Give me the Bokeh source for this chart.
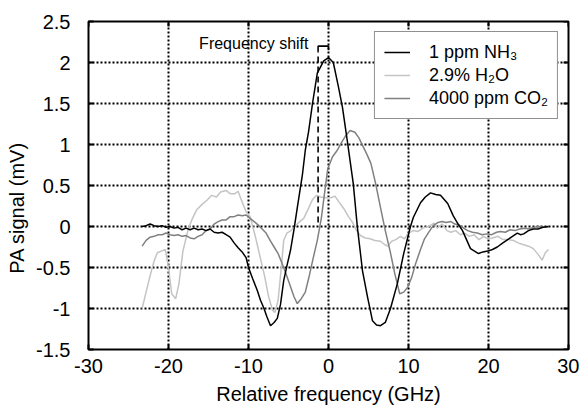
from bokeh.plotting import figure
from bokeh.models import Legend, LegendItem, FixedTicker
from bokeh.core.properties import value
from bokeh.embed import file_html
from bokeh.resources import INLINE

# ---------------- data ----------------
nh3_x = [-23.3, -22.8, -22.3, -21.8, -21.3, -20.8, -20.3, -19.8, -19.3, -18.8,
         -18.3, -17.8, -17.3, -16.8, -16.3, -15.8, -15.3, -14.8, -14.3, -13.8,
         -13.3, -12.8, -12.3, -11.8, -11.3, -10.8, -10.3, -10.0, -9.5, -8.9,
         -8.5, -8.1, -7.7, -7.25, -6.8, -6.4, -6.0, -5.6, -5.2, -4.75,
         -4.3, -3.9, -3.25, -2.9, -2.5, -2.0, -1.4, -0.6, 0.0, 0.6,
         1.25, 1.75, 2.4, 3.1, 3.6, 4.25, 4.9, 5.5, 6.0, 6.5,
         7.1, 7.75, 8.6, 9.4, 10.25, 10.6, 11.5, 12.1, 12.75, 13.4,
         14.0, 14.9, 15.6, 16.2, 16.75, 17.75, 18.75, 19.3, 19.9, 20.5,
         21.1, 21.8, 22.4, 23.0, 23.6, 24.0, 24.4, 25.0, 25.6, 26.2,
         26.8, 27.5]
nh3_y = [0.00, 0.01, 0.03, 0.01, 0.00, 0.01, -0.01, 0.00, -0.02, -0.01,
         -0.04, -0.02, -0.04, -0.02, -0.04, -0.03, -0.05, -0.03, -0.07, -0.08,
         -0.07, -0.10, -0.13, -0.20, -0.26, -0.31, -0.38, -0.50, -0.63, -0.78,
         -0.90, -0.99, -1.10, -1.21, -1.17, -1.12, -0.95, -0.66, -0.48, -0.29,
         -0.03, 0.23, 0.64, 0.93, 1.15, 1.50, 1.87, 2.02, 2.06, 2.00,
         1.70, 1.45, 1.01, 0.52, 0.00, -0.54, -0.87, -1.15, -1.20, -1.21,
         -1.17, -1.00, -0.70, -0.33, 0.00, 0.11, 0.29, 0.36, 0.41, 0.39,
         0.38, 0.28, 0.13, 0.03, -0.05, -0.27, -0.33, -0.31, -0.30, -0.28,
         -0.25, -0.20, -0.16, -0.12, -0.08, -0.10, -0.09, -0.05, -0.03, -0.03,
         -0.01, 0.00]

h2o_x = [-23.3, -22.8, -22.3, -21.8, -21.4, -20.9, -20.4, -20.0, -19.6, -19.1,
         -18.7, -18.2, -17.5, -17.0, -16.5, -15.8, -15.2, -14.6, -14.0, -13.5,
         -12.8, -12.3, -11.7, -11.3, -10.8, -10.3, -9.8, -9.2, -8.6, -8.0,
         -7.5, -7.0, -6.7, -6.3, -5.9, -5.6, -5.2, -4.7, -4.2, -3.6,
         -3.1, -2.6, -2.0, -1.5, -1.0, -0.3, 0.3, 0.8, 1.3, 1.9,
         2.5, 3.0, 3.5, 4.0, 4.6, 5.2, 5.8, 6.5, 7.0, 7.4,
         7.9, 8.4, 9.0, 9.5, 10.0, 10.6, 11.2, 11.8, 12.5, 13.2,
         13.6, 14.2, 14.8, 15.3, 15.9, 16.5, 17.0, 17.6, 18.2, 18.8,
         19.4, 19.9, 20.5, 21.2, 21.8, 22.5, 23.1, 23.7, 24.3, 25.0,
         25.6, 26.2, 26.7, 27.1, 27.5]
h2o_y = [-1.00, -0.80, -0.60, -0.42, -0.32, -0.30, -0.28, -0.50, -0.82, -0.88,
         -0.70, -0.30, -0.02, 0.10, 0.20, 0.27, 0.32, 0.38, 0.36, 0.42,
         0.44, 0.40, 0.40, 0.43, 0.30, 0.18, 0.12, -0.10, -0.35, -0.60,
         -0.85, -1.02, -1.05, -0.90, -0.50, -0.17, -0.08, -0.05, 0.00, 0.06,
         0.10, 0.20, 0.33, 0.38, 0.36, 0.35, 0.35, 0.37, 0.30, 0.22,
         0.12, 0.05, -0.05, -0.11, -0.14, -0.15, -0.17, -0.18, -0.22, -0.24,
         -0.18, -0.16, -0.12, -0.15, -0.08, -0.05, -0.06, -0.02, 0.00, 0.04,
         -0.02, 0.03, -0.05, -0.07, -0.05, -0.10, -0.08, -0.12, -0.10, -0.16,
         -0.12, -0.15, -0.14, -0.12, -0.16, -0.16, -0.17, -0.20, -0.22, -0.24,
         -0.27, -0.34, -0.41, -0.32, -0.28]

co2_x = [-23.3, -22.8, -22.3, -21.8, -21.3, -20.8, -20.3, -19.8, -19.3, -18.8,
         -18.3, -17.8, -17.3, -16.8, -16.3, -15.8, -15.3, -14.8, -14.3, -13.8,
         -13.3, -12.8, -12.3, -11.8, -11.3, -10.8, -10.3, -9.8, -9.3, -8.8,
         -8.3, -7.8, -7.3, -6.8, -6.3, -5.8, -5.3, -4.8, -4.3, -3.9,
         -3.4, -2.9, -2.4, -1.9, -1.4, -0.9, -0.5, -0.1, 0.5, 1.1,
         1.6, 2.1, 2.7, 3.3, 3.8, 4.3, 4.8, 5.3, 5.9, 6.5,
         7.1, 7.7, 8.3, 8.9, 9.4, 9.9, 10.4, 10.9, 11.5, 12.0,
         12.6, 13.1, 13.7, 14.2, 14.7, 15.3, 15.8, 16.3, 16.9, 17.4,
         18.0, 18.6, 19.2, 19.8, 20.4, 21.0, 21.5, 22.1, 22.7, 23.3,
         23.9, 24.5, 25.1, 25.7, 26.3, 26.9, 27.5]
co2_y = [-0.24, -0.17, -0.13, -0.12, -0.10, -0.10, -0.08, -0.10, -0.11, -0.10,
         -0.12, -0.11, -0.14, -0.15, -0.12, -0.10, -0.05, -0.03, 0.03, 0.06,
         0.08, 0.08, 0.12, 0.12, 0.14, 0.13, 0.14, 0.10, 0.06, 0.02,
         -0.03, -0.08, -0.17, -0.25, -0.33, -0.45, -0.58, -0.72, -0.86, -0.94,
         -0.88, -0.80, -0.60, -0.38, -0.17, 0.10, 0.40, 0.70, 0.85, 0.93,
         1.02, 1.10, 1.17, 1.15, 1.08, 0.98, 0.88, 0.77, 0.52, 0.23,
         -0.05, -0.30, -0.58, -0.82, -0.80, -0.74, -0.62, -0.45, -0.28, -0.15,
         -0.06, 0.01, 0.05, 0.06, 0.05, 0.06, 0.03, 0.02, -0.02, -0.05,
         -0.07, -0.08, -0.10, -0.09, -0.10, -0.07, -0.06, -0.07, -0.04, -0.05,
         -0.03, -0.02, -0.03, -0.01, 0.00, -0.01, 0.00]

series_labels = ["1 ppm NH\u2083", "2.9% H\u2082O", "4000 ppm CO\u2082"]
series_colors = ["#000000", "#c4c4c4", "#808080"]

x_range = (-30, 30)
y_range = (-1.5, 2.5)
x_ticks = [-30, -20, -10, 0, 10, 20, 30]
x_tick_labels = ["-30", "-20", "-10", "0", "10", "20", "30"]
y_ticks = [-1.5, -1, -0.5, 0, 0.5, 1, 1.5, 2, 2.5]
y_tick_labels = ["-1.5", "-1", "-0.5", "0", "0.5", "1", "1.5", "2", "2.5"]

x_title = "Relative frequency (GHz)"
y_title = "PA signal (mV)"

# frequency-shift annotation
shift_x = -1.3
peak_x = 0.0
shift_dash_bottom = 0.05
shift_dash_top = 2.13
bracket_y = 2.2
bracket_right_bottom = 2.15
shift_text = "Frequency shift"
shift_text_x = -2.5
shift_text_y = 2.23

FONT = "Liberation Sans"
TICK_SIZE = "20px"
FRAME_W, FRAME_H = 480, 328
TICK_LEN_PX = 5

p = figure(width=579, height=411,
           min_border_left=88, min_border_right=11,
           min_border_top=21, min_border_bottom=62,
           x_range=x_range, y_range=y_range,
           output_backend="svg", toolbar_location=None)

p.background_fill_color = "white"
p.border_fill_color = "white"
p.outline_line_color = "black"
p.outline_line_width = 2
p.outline_line_alpha = 1

for ax in (p.xaxis[0], p.yaxis[0]):
    ax.axis_line_color = None
    ax.major_tick_in = TICK_LEN_PX
    ax.major_tick_out = 0
    ax.major_tick_line_width = 2
    ax.major_tick_line_color = "black"
    ax.minor_tick_line_color = None
    ax.major_label_text_font = FONT
    ax.major_label_text_font_size = TICK_SIZE
    ax.major_label_text_color = "black"
    ax.axis_label_text_font = FONT
    ax.axis_label_text_font_size = TICK_SIZE
    ax.axis_label_text_font_style = "normal"
    ax.axis_label_text_color = "black"

p.xaxis.ticker = FixedTicker(ticks=x_ticks)
p.yaxis.ticker = FixedTicker(ticks=y_ticks)
p.xaxis.major_label_overrides = {t: s for t, s in zip(x_ticks, x_tick_labels)}
p.yaxis.major_label_overrides = {t: s for t, s in zip(y_ticks, y_tick_labels)}
p.xaxis.major_label_standoff = 9
p.yaxis.major_label_standoff = 18
p.xaxis.axis_label = x_title
p.xaxis.axis_label_standoff = 7
# trailing no-break spaces shift the rotated title slightly downward, as in the reference
p.yaxis.axis_label = y_title + "\u00a0" * 8
p.yaxis.axis_label_standoff = 5

for g in (p.xgrid[0], p.ygrid[0]):
    g.grid_line_color = "black"
    g.grid_line_dash = "2 2"
    g.grid_line_width = 2
    g.grid_line_alpha = 1

# mirrored inward ticks on the top and right frame edges
dy_tick = TICK_LEN_PX * (y_range[1] - y_range[0]) / FRAME_H
dx_tick = TICK_LEN_PX * (x_range[1] - x_range[0]) / FRAME_W
p.segment(x0=x_ticks, y0=[y_range[1]] * len(x_ticks),
          x1=x_ticks, y1=[y_range[1] - dy_tick] * len(x_ticks),
          line_color="black", line_width=2)
p.segment(x0=[x_range[1]] * len(y_ticks), y0=y_ticks,
          x1=[x_range[1] - dx_tick] * len(y_ticks), y1=y_ticks,
          line_color="black", line_width=2)

r_h2o = p.line(h2o_x, h2o_y, line_color=series_colors[1], line_width=1.5)
r_co2 = p.line(co2_x, co2_y, line_color=series_colors[2], line_width=1.5)
r_nh3 = p.line(nh3_x, nh3_y, line_color=series_colors[0], line_width=1.5)

# frequency shift marker
p.line([shift_x, shift_x], [shift_dash_bottom, shift_dash_top],
       line_color="black", line_width=1.6, line_dash="6 4")
p.line([shift_x, shift_x, peak_x, peak_x],
       [shift_dash_top, bracket_y, bracket_y, bracket_right_bottom],
       line_color="black", line_width=1.6)
p.text(x=[shift_text_x], y=[shift_text_y], text=[shift_text],
       text_align="right", text_baseline="alphabetic",
       text_font=value(FONT), text_font_size="16px", text_color="black")

legend = Legend(items=[LegendItem(label=series_labels[0], renderers=[r_nh3]),
                       LegendItem(label=series_labels[1], renderers=[r_h2o]),
                       LegendItem(label=series_labels[2], renderers=[r_co2])],
                location="top_right")
legend.margin = 10
legend.padding = 9
legend.spacing = 1
legend.glyph_width = 26
legend.glyph_height = 22
legend.label_standoff = 19
legend.label_text_font = FONT
legend.label_text_font_size = "18px"
legend.label_text_color = "black"
legend.label_height = 22
legend.border_line_color = "#222222"
legend.border_line_width = 1.5
legend.background_fill_alpha = 1
p.add_layout(legend)

open("out.html", "w").write(file_html(p, INLINE))
